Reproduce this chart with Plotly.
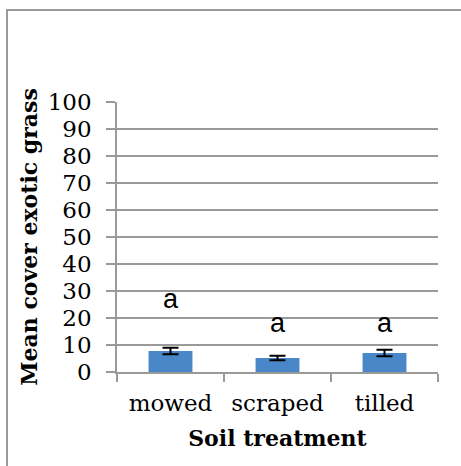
import plotly.graph_objects as go

categories = ["mowed", "scraped", "tilled"]
means = [7.8, 5.2, 7.0]
errors = [1.2, 0.85, 1.2]
letters = ["a", "a", "a"]
letter_y = [27, 18, 18]
y_ticks = list(range(0, 101, 10))

L, R, T, B = 117, 23, 102, 94
W, H = 461, 466
pw = W - L - R
ph = H - T - B

fig = go.Figure()
fig.add_trace(go.Bar(
    x=categories, y=means, width=0.41,
    marker=dict(color="#4a87c9", line=dict(width=0)),
    error_y=dict(type="data", array=errors, visible=True, color="black",
                 thickness=2, width=8),
    showlegend=False,
))
for c, t, yy in zip(categories, letters, letter_y):
    fig.add_annotation(x=c, y=yy, text=t, showarrow=False,
                       font=dict(family="Liberation Sans, Arial", size=27, color="black"),
                       yanchor="middle", xanchor="center")

# outer chart frame
fig.add_shape(type="rect", xref="paper", yref="paper",
              x0=(7 - L) / pw, x1=(480 - L) / pw,
              y0=(H - B - 490) / ph, y1=(H - B - 10) / ph,
              line=dict(color="#9a9a9a", width=2), layer="below")

fig.update_layout(
    width=W, height=H,
    margin=dict(l=L, r=R, t=T, b=B),
    paper_bgcolor="white", plot_bgcolor="white",
    font=dict(family="DejaVu Serif", color="black"),
    xaxis=dict(
        type="category", tickson="boundaries", ticks="outside", ticklen=8,
        tickcolor="#9a9a9a", tickwidth=1.5,
        showline=True, linecolor="#9a9a9a", linewidth=1.5,
        tickfont=dict(family="DejaVu Serif", size=23, color="black"),
        ticklabelstandoff=10,
        title=dict(text="<b>Soil treatment</b>", standoff=15,
                   font=dict(family="DejaVu Serif", size=22, color="black")),
        showgrid=False,
    ),
    yaxis=dict(
        range=[0, 100], tickvals=y_ticks, ticks="outside", ticklen=9,
        tickcolor="#9a9a9a", tickwidth=1.5,
        showline=True, linecolor="#9a9a9a", linewidth=1.5,
        showgrid=True, gridcolor="#9a9a9a", gridwidth=1.5,
        zeroline=False,
        tickfont=dict(family="DejaVu Serif", size=23, color="black"),
        ticklabelstandoff=10,
        title=dict(text="<b>Mean cover exotic grass</b>", standoff=4,
                   font=dict(family="DejaVu Serif", size=22, color="black")),
    ),
)
fig.write_html("out.html")
